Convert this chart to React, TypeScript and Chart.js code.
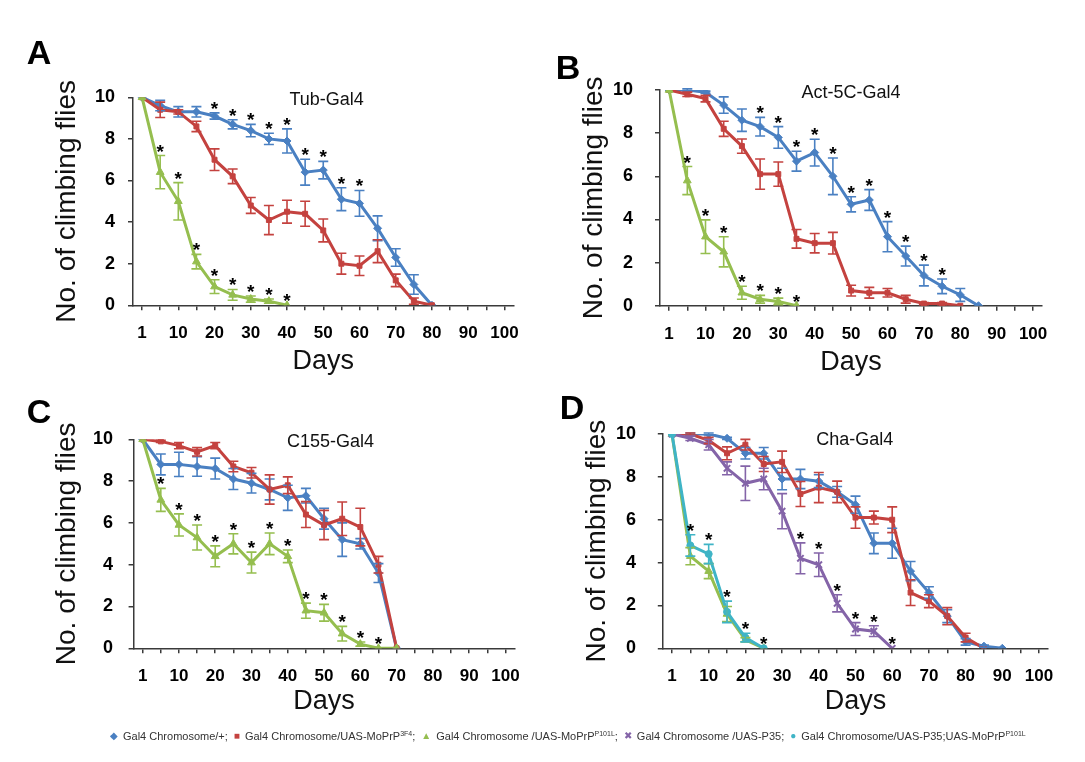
import React, { useEffect, useRef } from 'react';
import { Chart, registerables } from 'chart.js';

Chart.register(...registerables);

// ---------- shared categories / ticks ----------
const DAYS = [1, 5, 10, 15, 20, 25, 30, 35, 40, 45, 50, 55, 60, 65, 70, 75, 80, 85, 90, 95, 100];
const LABELED_DAYS = [1, 10, 20, 30, 40, 50, 60, 70, 80, 90, 100];
const Y_TICKS = [0, 2, 4, 6, 8, 10];

// ---------- series names ----------
const NAME_CTRL = 'Gal4 Chromosome/+';
const NAME_3F4 = 'Gal4 Chromosome/UAS-MoPrP3F4';
const NAME_P101L = 'Gal4 Chromosome /UAS-MoPrPP101L';
const NAME_P35 = 'Gal4 Chromosome /UAS-P35';
const NAME_P35P101L = 'Gal4 Chromosome/UAS-P35;UAS-MoPrPP101L';

// ---------- Panel A : Tub-Gal4 ----------
const tubCtrl = [10, 9.6, 9.3, 9.3, 9.1, 8.7, 8.4, 8.0, 7.9, 6.4, 6.5, 5.1, 4.9, 3.7, 2.3, 1.0, 0];
const tubCtrlErr = [0, 0.25, 0.25, 0.25, 0.15, 0.22, 0.3, 0.27, 0.58, 0.62, 0.42, 0.55, 0.62, 0.6, 0.42, 0.47, 0];
const tub3F4 = [10, 9.4, 9.3, 8.6, 7.0, 6.2, 4.8, 4.1, 4.5, 4.4, 3.6, 2.0, 1.9, 2.6, 1.2, 0.2, 0];
const tub3F4Err = [0, 0.37, 0.1, 0.25, 0.52, 0.35, 0.38, 0.7, 0.55, 0.6, 0.55, 0.5, 0.47, 0.55, 0.3, 0.15, 0];
const tubP101L = [10, 6.4, 5.0, 2.1, 0.9, 0.5, 0.3, 0.2, 0];
const tubP101LErr = [0, 0.8, 0.9, 0.35, 0.33, 0.26, 0.15, 0.1, 0];
const tubCtrlStars = [20, 25, 30, 35, 40, 45, 50, 55, 60];
const tubP101LStars = [5, 10, 15, 20, 25, 30, 35, 40];

// ---------- Panel B : Act-5C-Gal4 ----------
const actCtrl = [10, 10.0, 9.9, 9.3, 8.6, 8.3, 7.8, 6.7, 7.1, 6.0, 4.7, 4.9, 3.2, 2.3, 1.4, 0.9, 0.5, 0];
const actCtrlErr = [0, 0.05, 0.05, 0.38, 0.52, 0.43, 0.5, 0.46, 0.62, 0.85, 0.35, 0.48, 0.7, 0.46, 0.48, 0.34, 0.3, 0];
const act3F4 = [10, 9.8, 9.6, 8.2, 7.4, 6.1, 6.1, 3.1, 2.9, 2.9, 0.7, 0.6, 0.6, 0.3, 0.1, 0.1, 0];
const act3F4Err = [0, 0.1, 0.15, 0.35, 0.33, 0.7, 0.56, 0.43, 0.45, 0.5, 0.25, 0.25, 0.2, 0.18, 0.05, 0.05, 0];
const actP101L = [10, 5.8, 3.2, 2.5, 0.6, 0.3, 0.2, 0];
const actP101LErr = [0, 0.65, 0.78, 0.7, 0.3, 0.18, 0.15, 0];
const actCtrlStars = [25, 30, 35, 40, 45, 50, 55, 60, 65, 70, 75];
const actP101LStars = [5, 10, 15, 20, 25, 30, 35];

// ---------- Panel C : C155-Gal4 ----------
const c155Ctrl = [10, 8.8, 8.8, 8.7, 8.6, 8.1, 7.9, 7.6, 7.2, 7.3, 6.2, 5.2, 5.0, 3.6, 0];
const c155CtrlErr = [0, 0.5, 0.58, 0.47, 0.5, 0.5, 0.47, 0.5, 0.6, 0.35, 0.5, 0.8, 0.25, 0.45, 0];
const c1553F4 = [10, 9.9, 9.7, 9.4, 9.7, 8.7, 8.4, 7.6, 7.8, 6.4, 5.9, 6.2, 5.8, 4.0, 0];
const c1553F4Err = [0, 0.05, 0.15, 0.2, 0.15, 0.25, 0.25, 0.7, 0.4, 0.62, 0.7, 0.8, 0.9, 0.4, 0];
const c155P101L = [10, 7.1, 5.9, 5.3, 4.4, 5.0, 4.1, 5.0, 4.4, 1.8, 1.7, 0.7, 0.2, 0, 0];
const c155P101LErr = [0, 0.55, 0.53, 0.6, 0.5, 0.48, 0.5, 0.52, 0.3, 0.36, 0.4, 0.35, 0.1, 0, 0];
const c155P101LStars = [5, 10, 15, 20, 25, 30, 35, 40, 45, 50, 55, 60, 65];

// ---------- Panel D : Cha-Gal4 ----------
const chaCtrl = [10, 10.0, 10.0, 9.8, 9.1, 9.1, 7.9, 7.9, 7.8, 7.3, 6.7, 4.9, 4.9, 3.6, 2.6, 1.5, 0.3, 0.1, 0];
const chaCtrlErr = [0, 0.05, 0.05, 0.05, 0.27, 0.27, 0.5, 0.45, 0.3, 0.25, 0.4, 0.48, 0.7, 0.45, 0.27, 0.3, 0.15, 0.05, 0];
const cha3F4 = [10, 10.0, 9.7, 9.1, 9.5, 8.6, 8.7, 7.2, 7.5, 7.3, 6.1, 6.1, 6.0, 2.6, 2.2, 1.5, 0.5, 0];
const cha3F4Err = [0, 0.05, 0.15, 0.3, 0.25, 0.35, 0.5, 0.58, 0.7, 0.5, 0.5, 0.3, 0.6, 0.6, 0.3, 0.4, 0.2, 0];
const chaP101L = [10, 4.3, 3.6, 1.6, 0.4, 0];
const chaP101LErr = [0, 0.4, 0.35, 0.35, 0.1, 0];
const chaP35 = [10, 9.8, 9.5, 8.4, 7.7, 7.9, 6.4, 4.2, 3.9, 2.1, 0.9, 0.8, 0];
const chaP35Err = [0, 0.1, 0.25, 0.3, 0.8, 0.5, 0.82, 0.72, 0.55, 0.4, 0.3, 0.25, 0];
const chaP35P101L = [10, 4.8, 4.4, 1.7, 0.5, 0];
const chaP35P101LErr = [0, 0.5, 0.45, 0.5, 0.2, 0];
const chaP35Stars = [35, 40, 45, 50, 55, 60];
const chaP35P101LStars = [5, 10, 15, 20, 25];

// ---------- styles ----------
const FONT = '"Liberation Sans", Arial, Helvetica, sans-serif';
const AXIS = '#3a3a3a';
const C_BLUE = '#4A80C2';
const C_RED = '#C4423F';
const C_GREEN = '#95BE4F';
const C_PURPLE = '#8464A8';
const C_CYAN = '#3FB4C6';

type SeriesDef = {
  label: string; values: number[]; errors: number[]; stars: number[];
  color: string; marker: string; radius: number;
};
type PanelDef = {
  letter: string; title: string; series: SeriesDef[];
  L: number; T: number; R: number; B: number;
  ytx: number; yLabelRight: number; xly: number; dy: number;
  titleX: number; titleY: number; letterX: number; letterY: number;
};

const mk = (label: string, values: number[], errors: number[], stars: number[], color: string, marker: string, radius: number): SeriesDef =>
  ({ label, values, errors, stars, color, marker, radius });

const PANELS: PanelDef[] = [
  {
    letter: 'A', title: 'Tub-Gal4',
    series: [
      mk(NAME_CTRL, tubCtrl, tubCtrlErr, tubCtrlStars, C_BLUE, 'rectRot', 4),
      mk(NAME_3F4, tub3F4, tub3F4Err, [], C_RED, 'rect', 3.5),
      mk(NAME_P101L, tubP101L, tubP101LErr, tubP101LStars, C_GREEN, 'triangle', 4.5),
    ],
    L: 133, T: 97.3, R: 513.5, B: 305.3, ytx: 67, yLabelRight: 115, xly: 333, dy: 362,
    titleX: 326.7, titleY: 100, letterX: 39, letterY: 52,
  },
  {
    letter: 'B', title: 'Act-5C-Gal4',
    series: [
      mk(NAME_CTRL, actCtrl, actCtrlErr, actCtrlStars, C_BLUE, 'rectRot', 4),
      mk(NAME_3F4, act3F4, act3F4Err, [], C_RED, 'rect', 3.5),
      mk(NAME_P101L, actP101L, actP101LErr, actP101LStars, C_GREEN, 'triangle', 4.5),
    ],
    L: 660, T: 90, R: 1042.2, B: 305.7, ytx: 594, yLabelRight: 633, xly: 334, dy: 363,
    titleX: 851, titleY: 93.3, letterX: 568, letterY: 67,
  },
  {
    letter: 'C', title: 'C155-Gal4',
    series: [
      mk(NAME_CTRL, c155Ctrl, c155CtrlErr, [], C_BLUE, 'rectRot', 4),
      mk(NAME_3F4, c1553F4, c1553F4Err, [], C_RED, 'rect', 3.5),
      mk(NAME_P101L, c155P101L, c155P101LErr, c155P101LStars, C_GREEN, 'triangle', 4.5),
    ],
    L: 133.6, T: 439.3, R: 514.5, B: 648.3, ytx: 67, yLabelRight: 113, xly: 676, dy: 702,
    titleX: 330.5, titleY: 441.7, letterX: 39, letterY: 411,
  },
  {
    letter: 'D', title: 'Cha-Gal4',
    series: [
      mk(NAME_CTRL, chaCtrl, chaCtrlErr, [], C_BLUE, 'rectRot', 4),
      mk(NAME_3F4, cha3F4, cha3F4Err, [], C_RED, 'rect', 3.5),
      mk(NAME_P101L, chaP101L, chaP101LErr, [], C_GREEN, 'triangle', 4.5),
      mk(NAME_P35, chaP35, chaP35Err, chaP35Stars, C_PURPLE, 'crossRot', 4.5),
      mk(NAME_P35P101L, chaP35P101L, chaP35P101LErr, chaP35P101LStars, C_CYAN, 'circle', 3.5),
    ],
    L: 662.8, T: 434, R: 1048.2, B: 648.3, ytx: 597, yLabelRight: 636, xly: 676.7, dy: 701.7,
    titleX: 854.7, titleY: 440, letterX: 572, letterY: 407,
  },
];

// ---------- legend ----------
const LEGEND = [
  { sym: '◆', color: C_BLUE, pre: 'Gal4 Chromosome/+;', sup: '', post: '' },
  { sym: '■', color: C_RED, pre: 'Gal4 Chromosome/UAS-MoPrP', sup: '3F4', post: ';' },
  { sym: '▲', color: C_GREEN, pre: 'Gal4 Chromosome /UAS-MoPrP', sup: 'P101L', post: ';' },
  { sym: '✖', color: C_PURPLE, pre: 'Gal4 Chromosome /UAS-P35;', sup: '', post: '' },
  { sym: '●', color: C_CYAN, pre: 'Gal4 Chromosome/UAS-P35;UAS-MoPrP', sup: 'P101L', post: '' },
];

const Y_TITLE_SIZE = 28;
const X_TITLE_SIZE = 27;
const X_TICK_SIZE = 17;
const Y_TICK_SIZE = 18;
const TICK_LEN = 5;

function geom(p: PanelDef) {
  const yTitlePad = 4;
  const scaleLeft = p.ytx - (Y_TITLE_SIZE * 1.2) / 2 - yTitlePad;
  const cLeft = Math.floor(scaleLeft - 10);
  const pl = scaleLeft - cLeft;
  const Wy = p.L - scaleLeft;
  const xTitlePad = 4;
  const scaleBottom = p.dy + (X_TITLE_SIZE * 1.2) / 2 + xTitlePad;
  const Hx = scaleBottom - p.B;
  const cBottom = Math.ceil(scaleBottom + 10);
  const pb = cBottom - scaleBottom;
  const cTop = Math.floor(p.T - 42);
  const pt = p.T - cTop;
  const cRight = Math.ceil(p.R + 30);
  const pr = cRight - p.R;
  const xPad = p.xly - p.B - (X_TICK_SIZE * 1.2) / 2 - TICK_LEN;
  const yPad = p.L - p.yLabelRight - TICK_LEN;
  return { cLeft, cTop, width: cRight - cLeft, height: cBottom - cTop, pl, pt, pr, pb, Wy, Hx, xPad, yPad };
}

function Panel({ p }: { p: PanelDef }) {
  const ref = useRef<HTMLCanvasElement>(null);
  const g = geom(p);

  useEffect(() => {
    const deco = {
      id: 'deco',
      afterDatasetsDraw(chart: any) {
        const ctx = chart.ctx;
        const ys = chart.scales.y;
        p.series.forEach((s, di) => {
          const meta = chart.getDatasetMeta(di);
          ctx.save();
          ctx.strokeStyle = s.color;
          ctx.lineWidth = 1.6;
          s.values.forEach((v, i) => {
            const e = s.errors[i] || 0;
            if (e <= 0) return;
            const pt = meta.data[i];
            if (!pt) return;
            const x = pt.x;
            const yt = ys.getPixelForValue(v + e);
            const yb = ys.getPixelForValue(v - e);
            ctx.beginPath();
            ctx.moveTo(x, yt); ctx.lineTo(x, yb);
            ctx.moveTo(x - 5, yt); ctx.lineTo(x + 5, yt);
            ctx.moveTo(x - 5, yb); ctx.lineTo(x + 5, yb);
            ctx.stroke();
          });
          ctx.restore();
        });
        ctx.save();
        ctx.fillStyle = '#000';
        ctx.textAlign = 'center';
        ctx.textBaseline = 'alphabetic';
        ctx.font = `bold 19px ${FONT}`;
        p.series.forEach((s, di) => {
          const meta = chart.getDatasetMeta(di);
          s.stars.forEach((day) => {
            const i = DAYS.indexOf(day);
            const pt = meta.data[i];
            if (!pt) return;
            const top = ys.getPixelForValue(s.values[i] + (s.errors[i] || 0));
            ctx.fillText('*', pt.x, top - 8 + 10);
          });
        });
        ctx.font = `18px ${FONT}`;
        ctx.textBaseline = 'middle';
        ctx.fillStyle = '#111';
        ctx.fillText(p.title, p.titleX - g.cLeft, p.titleY - g.cTop);
        ctx.restore();
      },
    };

    const chart = new Chart(ref.current as HTMLCanvasElement, {
      type: 'line',
      data: {
        labels: DAYS.map(String),
        datasets: p.series.map((s, i) => ({
          label: s.label,
          data: s.values,
          borderColor: s.color,
          backgroundColor: s.color,
          borderWidth: 3,
          pointStyle: s.marker as any,
          pointRadius: s.radius,
          pointHoverRadius: s.radius,
          pointBorderWidth: s.marker === 'crossRot' ? 2 : 1,
          tension: 0,
          fill: false,
          order: -i,
        })),
      },
      options: {
        responsive: false,
        animation: false,
        events: [],
        layout: { padding: { left: g.pl, top: g.pt, right: g.pr, bottom: g.pb } },
        plugins: { legend: { display: false }, tooltip: { enabled: false } },
        scales: {
          x: {
            type: 'category',
            offset: true,
            afterFit: (s: any) => { s.height = g.Hx; },
            grid: { drawOnChartArea: false, drawTicks: true, tickLength: TICK_LEN, color: AXIS, lineWidth: 1.5, offset: false },
            border: { display: true, color: AXIS, width: 1.5 },
            ticks: {
              autoSkip: false, maxRotation: 0, minRotation: 0, padding: g.xPad, color: '#000',
              font: { family: FONT, size: X_TICK_SIZE, weight: 'bold' },
              callback: (_v: any, i: number) => (LABELED_DAYS.includes(DAYS[i]) ? String(DAYS[i]) : ''),
            },
            title: { display: true, text: 'Days', color: '#111', font: { family: FONT, size: X_TITLE_SIZE }, padding: { top: 4, bottom: 4 } },
          },
          y: {
            min: 0, max: 10,
            afterFit: (s: any) => { s.width = g.Wy; },
            afterBuildTicks: (s: any) => { s.ticks = Y_TICKS.map((v) => ({ value: v })); },
            grid: { drawOnChartArea: false, drawTicks: true, tickLength: TICK_LEN, color: AXIS, lineWidth: 1.5 },
            border: { display: true, color: AXIS, width: 1.5 },
            ticks: { padding: g.yPad, color: '#000', font: { family: FONT, size: Y_TICK_SIZE, weight: 'bold' } },
            title: { display: true, text: 'No. of climbing flies', color: '#111', font: { family: FONT, size: Y_TITLE_SIZE }, padding: { top: 4, bottom: 4 } },
          },
        },
      } as any,
      plugins: [deco],
    });
    return () => chart.destroy();
  }, []);

  return (
    <>
      <canvas
        ref={ref}
        width={g.width}
        height={g.height}
        style={{ position: 'absolute', left: g.cLeft, top: g.cTop, width: g.width, height: g.height }}
      />
      <div
        style={{
          position: 'absolute', left: p.letterX, top: p.letterY, transform: 'translate(-50%, -50%)',
          font: `bold 34px ${FONT}`, lineHeight: 1, color: '#000',
        }}
      >
        {p.letter}
      </div>
    </>
  );
}

export default function App() {
  return (
    <div style={{ position: 'absolute', left: 0, top: 0, width: 1085, height: 762, background: '#fff', overflow: 'hidden' }}>
      {PANELS.map((p) => <Panel key={p.letter} p={p} />)}
      <div
        style={{
          position: 'absolute', left: 110, top: 729, height: 14, display: 'flex', alignItems: 'center',
          font: `11px ${FONT}`, color: '#333', whiteSpace: 'nowrap', lineHeight: '14px',
        }}
      >
        {LEGEND.map((it) => (
          <span key={it.pre + it.sup} style={{ display: 'inline-flex', alignItems: 'center', marginRight: 6 }}>
            <span style={{ color: it.color, fontSize: 10, marginRight: 5 }}>{it.sym}</span>
            <span>
              {it.pre}
              {it.sup ? <sup style={{ fontSize: 7, verticalAlign: 'top', lineHeight: '10px' }}>{it.sup}</sup> : null}
              {it.post}
            </span>
          </span>
        ))}
      </div>
    </div>
  );
}
